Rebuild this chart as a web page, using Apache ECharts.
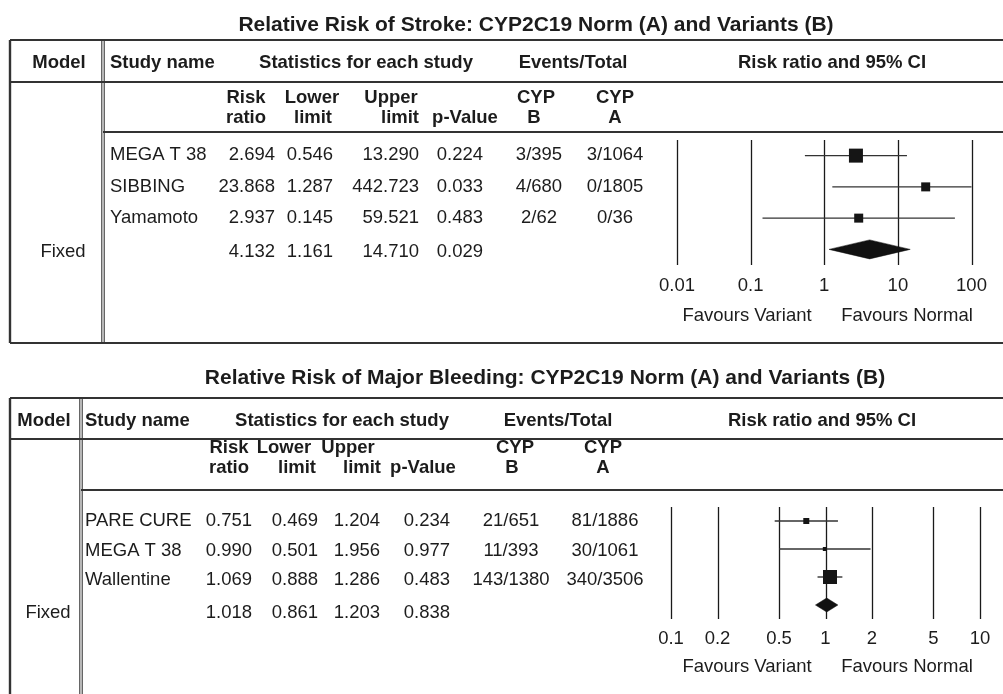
<!DOCTYPE html>
<html>
<head>
<meta charset="utf-8">
<script src="https://cdn.jsdelivr.net/npm/echarts@6/dist/echarts.min.js"></script>
<style>
  html, body { margin: 0; padding: 0; background: #ffffff; }
  #chart { width: 1003px; height: 694px; }
</style>
</head>
<body>
<div id="chart"></div>
<script>
// ---------------- data: stroke ----------------
const strokeTitle = 'Relative Risk of Stroke: CYP2C19 Norm (A) and Variants (B)';
const strokeStudies = ['MEGA T 38', 'SIBBING', 'Yamamoto'];
const strokeRR = [2.694, 23.868, 2.937];
const strokeLower = [0.546, 1.287, 0.145];
const strokeUpper = [13.290, 442.723, 59.521];
const strokeP = [0.224, 0.033, 0.483];
const strokeEventsB = ['3/395', '4/680', '2/62'];
const strokeEventsA = ['3/1064', '0/1805', '0/36'];
const strokeFixed = [4.132, 1.161, 14.710, 0.029];   // RR, lower, upper, p
const strokeTicks = [0.01, 0.1, 1, 10, 100];

// ---------------- data: major bleeding ----------------
const bleedTitle = 'Relative Risk of Major Bleeding: CYP2C19 Norm (A) and Variants (B)';
const bleedStudies = ['PARE CURE', 'MEGA T 38', 'Wallentine'];
const bleedRR = [0.751, 0.990, 1.069];
const bleedLower = [0.469, 0.501, 0.888];
const bleedUpper = [1.204, 1.956, 1.286];
const bleedP = [0.234, 0.977, 0.483];
const bleedEventsB = ['21/651', '11/393', '143/1380'];
const bleedEventsA = ['81/1886', '30/1061', '340/3506'];
const bleedFixed = [1.018, 0.861, 1.203, 0.838];
const bleedTicks = [0.1, 0.2, 0.5, 1, 2, 5, 10];

// ---------------- styling ----------------
const FONT = '"Liberation Sans", Arial, Helvetica, sans-serif';
const INK = '#1c1c1c';
const RULE = '#333333';
const BODY = 18.5;

// Panel layout: frame rules, column anchors, row centres
const panels = [
  {
    title: strokeTitle, titleX: 536, titleY: 25,
    top: 40, headY: 82, subY: 132, bottom: 343, left: 10, divider: 103,
    head: 63, sub1: 98, sub2: 118,
    modelX: 59, studyX: 110, statsX: 366, eventsX: 573, ciX: 832,
    hdr: { rr: [246, 246], lo: [312, 313], up: [391, 400], p: 465, b: [536, 534], a: [615, 615] },
    col: { rr: 275, lo: 333, up: 419, p: 483, b: 539, a: 615 },
    rows: [155, 187, 218], fixedY: 252,
    favY: 316,
    studies: strokeStudies, rr: strokeRR, lo: strokeLower, up: strokeUpper, p: strokeP,
    eb: strokeEventsB, ea: strokeEventsA, fixed: strokeFixed
  },
  {
    title: bleedTitle, titleX: 545, titleY: 378,
    top: 398, headY: 439, subY: 490, bottom: null, left: 10, divider: 81,
    head: 421, sub1: 448, sub2: 468,
    modelX: 44, studyX: 85, statsX: 342, eventsX: 558, ciX: 822,
    hdr: { rr: [229, 229], lo: [284, 297], up: [348, 362], p: 423, b: [515, 512], a: [603, 603] },
    col: { rr: 252, lo: 318, up: 380, p: 450, b: 511, a: 605 },
    rows: [521, 551, 580], fixedY: 613,
    favY: 667,
    studies: bleedStudies, rr: bleedRR, lo: bleedLower, up: bleedUpper, p: bleedP,
    eb: bleedEventsB, ea: bleedEventsA, fixed: bleedFixed
  }
];

// Marker sizes (px) and diamond heights for each forest panel
const boxPx = [[14, 9, 9], [6, 4, 14]];
const diamondPx = [19, 14];

function txt(x, y, s, opt) {
  opt = opt || {};
  const align = opt.align || 'center';
  return {
    type: 'text', x: x, y: y, silent: true,
    style: {
      text: s,
      font: (opt.bold ? 'bold ' : '') + (opt.size || BODY) + 'px ' + FONT,
      fill: INK,
      align: align, verticalAlign: 'middle',
      textAlign: align, textVerticalAlign: 'middle'
    }
  };
}
function rule(x1, y1, x2, y2, w) {
  return {
    type: 'line', silent: true,
    shape: { x1: x1, y1: y1, x2: x2, y2: y2 },
    style: { stroke: RULE, lineWidth: w || 2 }
  };
}

const graphics = [];
panels.forEach(function (P) {
  const right = 1003;
  const bottom = P.bottom == null ? 694 : P.bottom;
  graphics.push(txt(P.titleX, P.titleY, P.title, { bold: true, size: 21 }));
  // frame
  graphics.push(rule(P.left, P.top, right, P.top, 2.2));
  graphics.push(rule(P.left, P.headY, right, P.headY, 2));
  graphics.push(rule(P.divider, P.subY, right, P.subY, 2));
  if (P.bottom != null) graphics.push(rule(P.left, bottom, right, bottom, 2.2));
  graphics.push(rule(P.left, P.top, P.left, bottom, 2.4));
  graphics.push(rule(P.divider - 1.2, P.top, P.divider - 1.2, bottom, 1.1));
  graphics.push(rule(P.divider + 1.2, P.top, P.divider + 1.2, bottom, 1.1));
  // header row
  graphics.push(txt(P.modelX, P.head, 'Model', { bold: true }));
  graphics.push(txt(P.studyX, P.head, 'Study name', { bold: true, align: 'left' }));
  graphics.push(txt(P.statsX, P.head, 'Statistics for each study', { bold: true }));
  graphics.push(txt(P.eventsX, P.head, 'Events/Total', { bold: true }));
  graphics.push(txt(P.ciX, P.head, 'Risk ratio and 95% CI', { bold: true }));
  // sub-header row
  const H = P.hdr;
  graphics.push(txt(H.rr[0], P.sub1, 'Risk', { bold: true }));
  graphics.push(txt(H.rr[1], P.sub2, 'ratio', { bold: true }));
  graphics.push(txt(H.lo[0], P.sub1, 'Lower', { bold: true }));
  graphics.push(txt(H.lo[1], P.sub2, 'limit', { bold: true }));
  graphics.push(txt(H.up[0], P.sub1, 'Upper', { bold: true }));
  graphics.push(txt(H.up[1], P.sub2, 'limit', { bold: true }));
  graphics.push(txt(H.p, P.sub2, 'p-Value', { bold: true }));
  graphics.push(txt(H.b[0], P.sub1, 'CYP', { bold: true }));
  graphics.push(txt(H.b[1], P.sub2, 'B', { bold: true }));
  graphics.push(txt(H.a[0], P.sub1, 'CYP', { bold: true }));
  graphics.push(txt(H.a[1], P.sub2, 'A', { bold: true }));
  // study rows
  const C = P.col;
  P.studies.forEach(function (name, i) {
    const y = P.rows[i];
    graphics.push(txt(P.studyX, y, name, { align: 'left' }));
    graphics.push(txt(C.rr, y, P.rr[i].toFixed(3), { align: 'right' }));
    graphics.push(txt(C.lo, y, P.lo[i].toFixed(3), { align: 'right' }));
    graphics.push(txt(C.up, y, P.up[i].toFixed(3), { align: 'right' }));
    graphics.push(txt(C.p, y, P.p[i].toFixed(3), { align: 'right' }));
    graphics.push(txt(C.b, y, P.eb[i]));
    graphics.push(txt(C.a, y, P.ea[i]));
  });
  // pooled (fixed-effect) row
  graphics.push(txt(P.modelX + 4, P.fixedY, 'Fixed'));
  graphics.push(txt(C.rr, P.fixedY, P.fixed[0].toFixed(3), { align: 'right' }));
  graphics.push(txt(C.lo, P.fixedY, P.fixed[1].toFixed(3), { align: 'right' }));
  graphics.push(txt(C.up, P.fixedY, P.fixed[2].toFixed(3), { align: 'right' }));
  graphics.push(txt(C.p, P.fixedY, P.fixed[3].toFixed(3), { align: 'right' }));
  // favours captions
  graphics.push(txt(747, P.favY, 'Favours Variant'));
  graphics.push(txt(907, P.favY, 'Favours Normal'));
});

// ---------------- forest plot series ----------------
function forestRows(rr, lo, up, fixed) {
  const rows = rr.map(function (v, i) { return [v, lo[i], up[i], i, 0]; });
  rows.push([fixed[0], fixed[1], fixed[2], rr.length, 1]);
  return rows;
}

function makeForestRender(panelIdx) {
  return function (params, api) {
    const row = api.value(3);
    const kind = api.value(4);
    const c = api.coord([api.value(0), row]);
    const xl = api.coord([api.value(1), row])[0];
    const xh = api.coord([api.value(2), row])[0];
    const cs = params.coordSys;
    const clamp = function (v) { return Math.max(cs.x, Math.min(cs.x + cs.width, v)); };
    if (kind === 1) {
      const h = diamondPx[panelIdx] / 2;
      return {
        type: 'polygon',
        shape: { points: [[xl, c[1]], [c[0], c[1] - h], [xh, c[1]], [c[0], c[1] + h]] },
        style: { fill: '#111111', stroke: '#111111', lineWidth: 0.5 }
      };
    }
    const s = boxPx[panelIdx][params.dataIndex];
    return {
      type: 'group',
      children: [
        {
          type: 'line',
          shape: { x1: clamp(xl), y1: c[1], x2: clamp(xh), y2: c[1] },
          style: { stroke: '#333333', lineWidth: 1.4 }
        },
        {
          type: 'rect',
          shape: { x: c[0] - s / 2, y: c[1] - s / 2, width: s, height: s },
          style: { fill: '#151515' }
        }
      ]
    };
  };
}

function gridLineRender(params, api) {
  const cs = params.coordSys;
  const x = Math.round(api.coord([api.value(0), 0])[0]) + 0.5;
  return {
    type: 'line',
    shape: { x1: x, y1: cs.y, x2: x, y2: cs.y + cs.height },
    style: { stroke: '#1a1a1a', lineWidth: 1.3 }
  };
}

function logAxis(gridIndex, min, max, ticks, margin) {
  return {
    type: 'log', logBase: 10, gridIndex: gridIndex, min: min, max: max,
    axisLine: { show: false }, axisTick: { show: false }, splitLine: { show: false },
    axisLabel: {
      customValues: ticks,
      margin: margin,
      color: INK, fontSize: BODY, fontFamily: FONT,
      formatter: function (v) { return String(+Number(v).toPrecision(6)); }
    }
  };
}
function rowAxis(gridIndex) {
  return { type: 'value', gridIndex: gridIndex, min: -0.5, max: 3.5, inverse: true, show: false };
}

const option = {
  backgroundColor: '#ffffff',
  animation: false,
  textStyle: { fontFamily: FONT },
  grid: [
    { left: 677, width: 294.5, top: 140, height: 125, containLabel: false },
    { left: 671, width: 309, top: 507, height: 112, containLabel: false }
  ],
  xAxis: [
    logAxis(0, 0.01, 100, strokeTicks, 11),
    logAxis(1, 0.1, 10, bleedTicks, 10)
  ],
  yAxis: [rowAxis(0), rowAxis(1)],
  series: [
    {
      type: 'custom', name: 'stroke grid', xAxisIndex: 0, yAxisIndex: 0, z: 1,
      data: strokeTicks.map(function (v) { return [v]; }),
      renderItem: gridLineRender, silent: true
    },
    {
      type: 'custom', name: 'Stroke', xAxisIndex: 0, yAxisIndex: 0, z: 2, clip: false,
      data: forestRows(strokeRR, strokeLower, strokeUpper, strokeFixed),
      renderItem: makeForestRender(0), silent: true
    },
    {
      type: 'custom', name: 'bleeding grid', xAxisIndex: 1, yAxisIndex: 1, z: 1,
      data: bleedTicks.map(function (v) { return [v]; }),
      renderItem: gridLineRender, silent: true
    },
    {
      type: 'custom', name: 'Major bleeding', xAxisIndex: 1, yAxisIndex: 1, z: 2, clip: false,
      data: forestRows(bleedRR, bleedLower, bleedUpper, bleedFixed),
      renderItem: makeForestRender(1), silent: true
    }
  ],
  graphic: graphics
};

const chart = echarts.init(document.getElementById('chart'), null, { renderer: 'canvas' });
chart.setOption(option);
</script>
</body>
</html>
